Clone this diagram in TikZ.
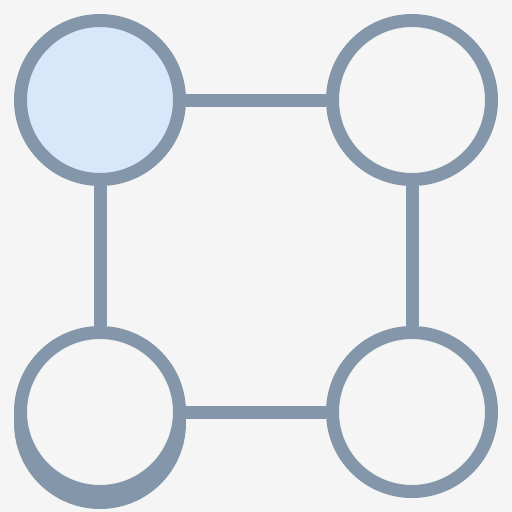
\documentclass[tikz,border=0pt]{standalone}
\usepackage{tikz}
\definecolor{rand}{HTML}{8497AA}
\definecolor{hell}{HTML}{D8E7FA}
\definecolor{grund}{HTML}{F5F5F5}
\begin{document}
\begin{tikzpicture}[x=1pt,y=-1pt,
    kreis/.style={circle, draw=rand, line width=13pt, minimum size=159pt, inner sep=0pt, fill=grund},
    kante/.style={-, rand, line width=13pt}]
        % zeichne Hintergrund
        \fill[grund] (0,0) rectangle (512,512);
        \useasboundingbox (0,0) rectangle (512,512);

        % zeichne Schatten unter dem Kreis links unten
        \fill[rand] (100,423) circle (86pt);

        % zeichne Knoten
        \node[kreis, fill=hell] (lo) at (100,100) {};
        \node[kreis] (ro) at (412,100) {};
        \node[kreis] (lu) at (100,412) {};
        \node[kreis] (ru) at (412,412) {};

        % zeichne Kanten
        \draw[kante] (lo) -- (ro);
        \draw[kante] (lo) -- (lu);
        \draw[kante] (ro) -- (ru);
        \draw[kante] (lu) -- (ru);
    \end{tikzpicture}
\end{document}
